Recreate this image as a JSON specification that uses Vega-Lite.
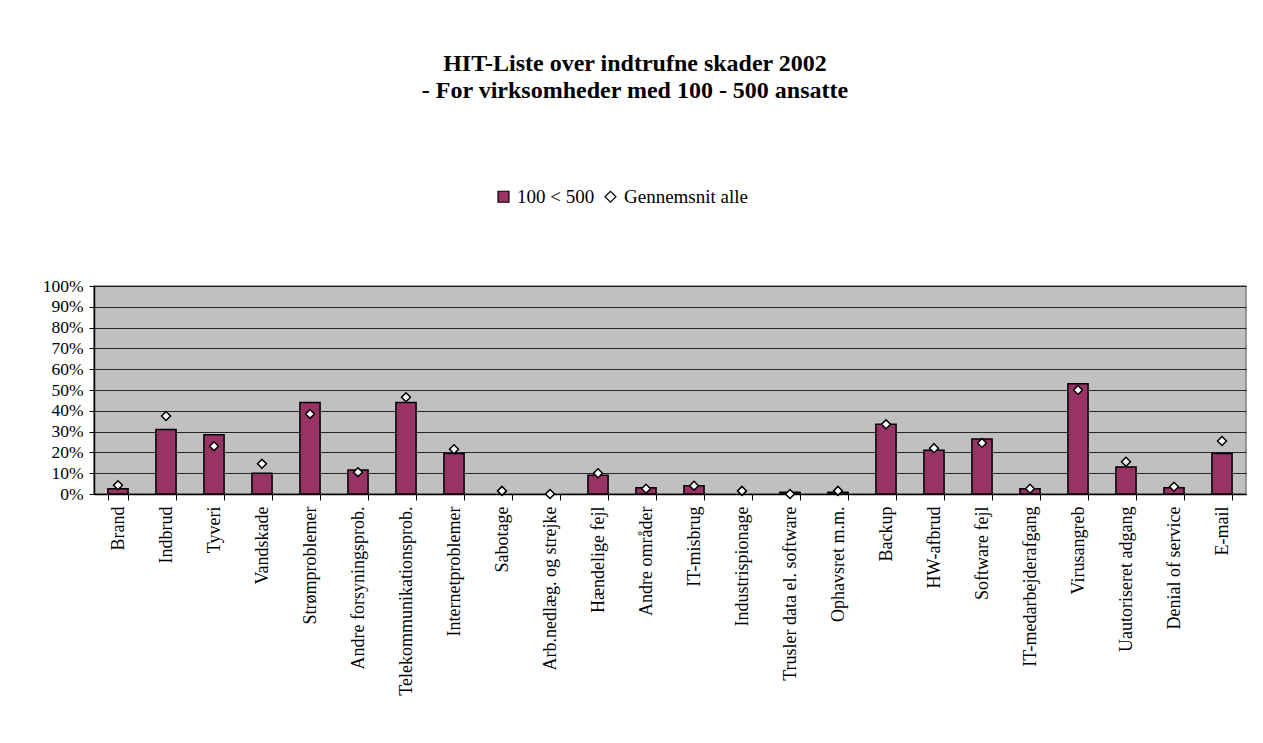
{
  "$schema": "https://vega.github.io/schema/vega-lite/v6.json",
  "width": 1152,
  "height": 208,
  "autosize": "none",
  "padding": {"left": 94, "top": 286, "right": 17, "bottom": 249},
  "background": "white",
  "title": {
    "text": ["HIT-Liste over indtrufne skader 2002", "- For virksomheder med 100 - 500 ansatte"],
    "font": "Liberation Serif",
    "fontSize": 24,
    "fontWeight": "bold",
    "color": "black",
    "lineHeight": 27,
    "anchor": "middle",
    "dx": -35,
    "offset": 84
  },
  "config": {
    "view": {"fill": "#C0C0C0", "stroke": "#808080", "strokeWidth": 1.5},
    "axis": {"labelFont": "Liberation Serif", "labelColor": "black", "domainColor": "black", "tickColor": "black"}
  },
  "data": {
    "values": [
      {"cat": "Brand", "s": "100 < 500", "v": 0.025},
      {"cat": "Brand", "s": "Gennemsnit alle", "v": 0.042},
      {"cat": "Indbrud", "s": "100 < 500", "v": 0.31},
      {"cat": "Indbrud", "s": "Gennemsnit alle", "v": 0.375},
      {"cat": "Tyveri", "s": "100 < 500", "v": 0.285},
      {"cat": "Tyveri", "s": "Gennemsnit alle", "v": 0.23},
      {"cat": "Vandskade", "s": "100 < 500", "v": 0.1},
      {"cat": "Vandskade", "s": "Gennemsnit alle", "v": 0.145},
      {"cat": "Strømproblemer", "s": "100 < 500", "v": 0.44},
      {"cat": "Strømproblemer", "s": "Gennemsnit alle", "v": 0.385},
      {"cat": "Andre forsyningsprob.", "s": "100 < 500", "v": 0.115},
      {"cat": "Andre forsyningsprob.", "s": "Gennemsnit alle", "v": 0.105},
      {"cat": "Telekommunikationsprob.", "s": "100 < 500", "v": 0.44},
      {"cat": "Telekommunikationsprob.", "s": "Gennemsnit alle", "v": 0.465},
      {"cat": "Internetproblemer", "s": "100 < 500", "v": 0.195},
      {"cat": "Internetproblemer", "s": "Gennemsnit alle", "v": 0.215},
      {"cat": "Sabotage", "s": "Gennemsnit alle", "v": 0.015},
      {"cat": "Arb.nedlæg. og strejke", "s": "Gennemsnit alle", "v": 0.0},
      {"cat": "Hændelige fejl", "s": "100 < 500", "v": 0.09},
      {"cat": "Hændelige fejl", "s": "Gennemsnit alle", "v": 0.1},
      {"cat": "Andre områder", "s": "100 < 500", "v": 0.03},
      {"cat": "Andre områder", "s": "Gennemsnit alle", "v": 0.025},
      {"cat": "IT-misbrug", "s": "100 < 500", "v": 0.04},
      {"cat": "IT-misbrug", "s": "Gennemsnit alle", "v": 0.04},
      {"cat": "Industrispionage", "s": "Gennemsnit alle", "v": 0.015},
      {"cat": "Trusler data el. software", "s": "100 < 500", "v": 0.008},
      {"cat": "Trusler data el. software", "s": "Gennemsnit alle", "v": 0.0},
      {"cat": "Ophavsret m.m.", "s": "100 < 500", "v": 0.008},
      {"cat": "Ophavsret m.m.", "s": "Gennemsnit alle", "v": 0.015},
      {"cat": "Backup", "s": "100 < 500", "v": 0.335},
      {"cat": "Backup", "s": "Gennemsnit alle", "v": 0.335},
      {"cat": "HW-afbrud", "s": "100 < 500", "v": 0.21},
      {"cat": "HW-afbrud", "s": "Gennemsnit alle", "v": 0.22},
      {"cat": "Software fejl", "s": "100 < 500", "v": 0.265},
      {"cat": "Software fejl", "s": "Gennemsnit alle", "v": 0.245},
      {"cat": "IT-medarbejderafgang", "s": "100 < 500", "v": 0.025},
      {"cat": "IT-medarbejderafgang", "s": "Gennemsnit alle", "v": 0.025},
      {"cat": "Virusangreb", "s": "100 < 500", "v": 0.53},
      {"cat": "Virusangreb", "s": "Gennemsnit alle", "v": 0.5},
      {"cat": "Uautoriseret adgang", "s": "100 < 500", "v": 0.13},
      {"cat": "Uautoriseret adgang", "s": "Gennemsnit alle", "v": 0.155},
      {"cat": "Denial of service", "s": "100 < 500", "v": 0.03},
      {"cat": "Denial of service", "s": "Gennemsnit alle", "v": 0.035},
      {"cat": "E-mail", "s": "100 < 500", "v": 0.195},
      {"cat": "E-mail", "s": "Gennemsnit alle", "v": 0.255}
    ]
  },
  "encoding": {
    "x": {
      "field": "cat",
      "type": "nominal",
      "sort": ["Brand", "Indbrud", "Tyveri", "Vandskade", "Strømproblemer", "Andre forsyningsprob.", "Telekommunikationsprob.", "Internetproblemer", "Sabotage", "Arb.nedlæg. og strejke", "Hændelige fejl", "Andre områder", "IT-misbrug", "Industrispionage", "Trusler data el. software", "Ophavsret m.m.", "Backup", "HW-afbrud", "Software fejl", "IT-medarbejderafgang", "Virusangreb", "Uautoriseret adgang", "Denial of service", "E-mail"],
      "scale": {"paddingInner": 0.58, "paddingOuter": 0.29},
      "axis": {
        "title": null,
        "labelAngle": 270,
        "labelAlign": "right",
        "labelBaseline": "middle",
        "labelFontSize": 18,
        "labelPadding": 6,
        "labelLimit": 400,
        "tickBand": "extent",
        "tickSize": 6,
        "domainWidth": 1.5,
        "grid": false
      }
    },
    "y": {
      "field": "v",
      "type": "quantitative",
      "scale": {"domain": [0, 1], "nice": false},
      "axis": {
        "title": null,
        "values": [0, 0.1, 0.2, 0.3, 0.4, 0.5, 0.6, 0.7, 0.8, 0.9, 1],
        "format": ".0%",
        "labelFontSize": 17.5,
        "labelPadding": 6,
        "tickSize": 5,
        "domainWidth": 1.5,
        "grid": true,
        "gridColor": "black",
        "gridWidth": 1,
        "gridOpacity": 0.8
      }
    }
  },
  "layer": [
    {
      "transform": [{"filter": "datum.s === '100 < 500'"}],
      "mark": {"type": "bar", "stroke": "black", "strokeWidth": 1.5},
      "encoding": {
        "color": {
          "field": "s",
          "type": "nominal",
          "scale": {"domain": ["100 < 500", "Gennemsnit alle"], "range": ["#993366", "#FFFFFF"]},
          "legend": {
            "title": null,
            "orient": "none",
            "legendX": 400,
            "legendY": -99,
            "direction": "horizontal",
            "labelFont": "Liberation Serif",
            "labelFontSize": 19,
            "labelColor": "black",
            "symbolStrokeColor": "black",
            "symbolStrokeWidth": 1.2,
            "symbolSize": 120,
            "columnPadding": 6,
            "labelOffset": 4
          }
        }
      }
    },
    {
      "transform": [{"filter": "datum.s === 'Gennemsnit alle'"}],
      "mark": {"type": "point", "filled": true, "stroke": "black", "strokeWidth": 1.5, "size": 80, "opacity": 1},
      "encoding": {
        "color": {"field": "s", "type": "nominal"},
        "shape": {
          "field": "s",
          "type": "nominal",
          "scale": {"domain": ["100 < 500", "Gennemsnit alle"], "range": ["square", "diamond"]}
        }
      }
    }
  ]
}
